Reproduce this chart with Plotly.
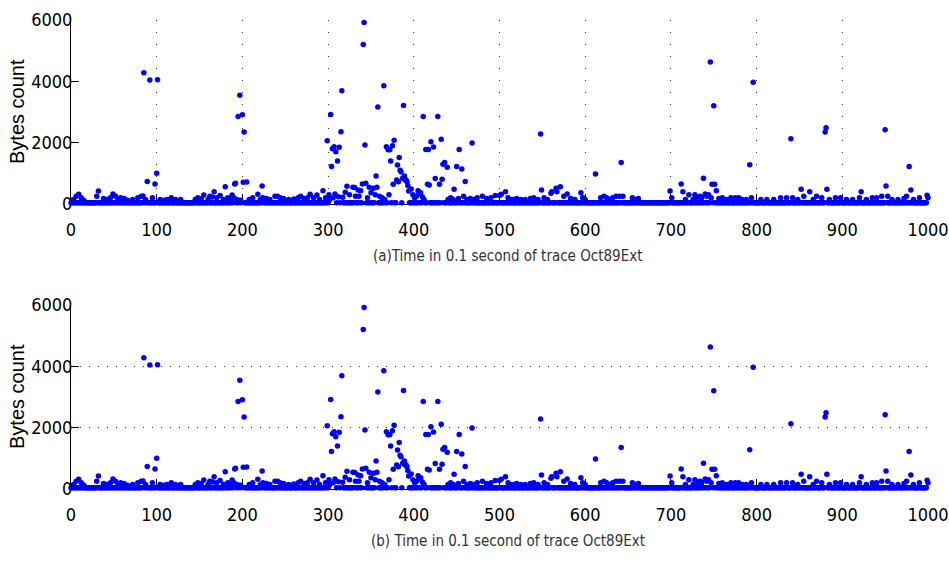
import plotly.graph_objects as go

# Trace Oct89Ext: bytes seen in each 0.1 s slot
time_slots = list(range(0, 1001))
idle_bytes = 40  # level of the quiet slots

burst_time = [
    3, 6, 9, 12, 15, 30, 32, 38, 42, 46, 49, 52, 55, 58, 62, 66, 72, 78, 82, 84,
    85, 87, 89, 92, 95, 98, 100, 101, 104, 108, 112, 117, 122, 128, 145, 148, 152, 155, 160, 162,
    165, 167, 170, 174, 178, 180, 183, 186, 188, 190, 191, 192, 194, 195, 197, 198, 200, 201, 202, 205,
    208, 212, 218, 221, 223, 224, 228, 232, 238, 241, 244, 248, 254, 260, 265, 268, 272, 276, 279, 283,
    287, 290, 294, 297, 299, 301, 302, 303, 304, 305, 306, 307, 308, 309, 311, 312, 313, 315, 316, 317,
    320, 322, 325, 329, 331, 332, 335, 336, 338, 340, 341, 342, 343, 344, 346, 348, 350, 353, 355, 356,
    357, 358, 360, 363, 365, 366, 368, 370, 371, 372, 373, 375, 376, 377, 380, 381, 382, 383, 384, 385,
    387, 388, 389, 390, 391, 392, 393, 394, 397, 399, 401, 403, 405, 406, 408, 410, 411, 412, 414, 416,
    417, 418, 420, 423, 425, 428, 430, 432, 433, 434, 436, 439, 440, 443, 446, 447, 450, 452, 453, 456,
    458, 460, 462, 466, 468, 470, 474, 480, 485, 490, 495, 500, 502, 507, 510, 515, 520, 525, 530, 536,
    540, 545, 548, 549, 552, 556, 560, 561, 566, 567, 571, 575, 579, 583, 588, 595, 597, 600, 612, 618,
    622, 625, 628, 632, 636, 640, 642, 644, 655, 658, 662, 699, 701, 712, 714, 717, 721, 726, 728, 731,
    734, 736, 738, 740, 742, 744, 746, 747, 748, 750, 751, 753, 756, 760, 765, 770, 775, 779, 783, 788,
    792, 794, 796, 805, 812, 820, 828, 835, 840, 842, 848, 852, 855, 862, 866, 870, 876, 880, 881, 882,
    885, 892, 898, 905, 912, 920, 922, 928, 935, 940, 946, 950, 951, 953, 958, 965, 972, 975, 978, 980,
    983, 990, 999, 1000,
]
burst_bytes = [
    150, 250, 320, 200, 120, 250, 420, 180, 150, 200, 330, 250, 150, 200, 180, 120, 150, 200, 250, 260,
    4280, 150, 730, 4040, 200, 650, 1000, 4050, 150, 120, 150, 200, 150, 150, 150, 200, 180, 290, 150, 250,
    230, 400, 200, 280, 150, 565, 200, 150, 290, 200, 650, 680, 150, 2850, 3550, 120, 2910, 710, 2350, 720,
    150, 200, 316, 150, 590, 200, 180, 150, 250, 250, 200, 180, 150, 160, 200, 250, 180, 200, 316, 200,
    293, 150, 435, 200, 2060, 300, 150, 2915, 1220, 1800, 200, 1870, 326, 1700, 1400, 240, 1850, 2360, 3690, 218,
    380, 577, 300, 543, 540, 250, 456, 250, 434, 650, 5200, 5920, 1920, 675, 200, 543, 370, 510, 300, 913,
    543, 3160, 250, 200, 3860, 150, 1870, 1770, 300, 1770, 1400, 1900, 640, 2080, 780, 1270, 727, 1520, 1100, 1050,
    837, 3210, 913, 780, 780, 727, 600, 424, 490, 300, 200, 250, 433, 326, 370, 230, 2850, 150, 1780, 640,
    1780, 620, 2030, 1860, 830, 2850, 640, 2110, 805, 1300, 1350, 1200, 150, 200, 150, 480, 1220, 180, 1780, 1140,
    250, 730, 150, 180, 1990, 150, 200, 250, 180, 200, 280, 280, 316, 400, 200, 150, 180, 150, 150, 180,
    200, 150, 2280, 456, 200, 150, 350, 400, 512, 400, 565, 250, 326, 180, 150, 370, 200, 150, 980, 200,
    250, 200, 150, 200, 250, 250, 1350, 250, 200, 150, 180, 424, 200, 650, 400, 150, 300, 150, 300, 200,
    250, 200, 837, 330, 250, 300, 4630, 200, 640, 3200, 640, 434, 180, 200, 150, 200, 200, 200, 150, 150,
    1280, 200, 3970, 150, 150, 150, 200, 200, 2130, 200, 150, 480, 250, 400, 150, 250, 200, 2350, 2490, 480,
    150, 200, 200, 150, 150, 200, 400, 150, 200, 200, 250, 2420, 587, 250, 150, 150, 180, 250, 1220, 456,
    150, 200, 283, 200,
]

x_ticks = list(range(0, 1001, 100))
y_ticks = [0, 2000, 4000, 6000]
panel_titles = [
    "(a)Time in 0.1 second of trace Oct89Ext",
    "(b) Time in 0.1 second of trace Oct89Ext",
]
y_title = "Bytes count"

bytes_count = [idle_bytes] * len(time_slots)
for t, b in zip(burst_time, burst_bytes):
    bytes_count[t] = b

W, H = 949, 563
NARROW = "DejaVu Sans Condensed, Liberation Sans Narrow, Liberation Sans, sans-serif"
PLAIN = "Liberation Sans, Arial, sans-serif"

x_dom = [71 / W, 928 / W]
top_dom = [1 - 204 / H, 1 - 20 / H]
bot_dom = [1 - 489 / H, 1 - 305 / H]

fig = go.Figure()
for xa, ya in (("x", "y"), ("x2", "y2")):
    fig.add_trace(go.Scatter(
        x=time_slots, y=bytes_count, mode="markers", xaxis=xa, yaxis=ya,
        marker=dict(color="#0000ff", size=5.5, line=dict(width=0)),
        cliponaxis=False, showlegend=False, hoverinfo="x+y",
    ))

axis_common = dict(
    showline=True, linecolor="black", linewidth=1, ticks="inside",
    tickcolor="black", tickwidth=1, zeroline=False, mirror=False,
    automargin=False, ticklabeloverflow="allow",
    tickfont=dict(family=NARROW, size=18, color="black"),
    layer="below traces",
)

x_common = dict(domain=x_dom, range=[0, 1000], tickvals=x_ticks, ticklen=10,
                ticklabelstandoff=9)
y_common = dict(range=[0, 6000], tickvals=y_ticks, ticklen=8, ticklabelstandoff=-6)

fig.update_layout(
    width=W, height=H,
    margin=dict(l=0, r=0, t=0, b=0),
    paper_bgcolor="white", plot_bgcolor="white",
    xaxis=dict(anchor="y", showgrid=True, gridcolor="#333333", gridwidth=1,
               griddash="1px,11px", **x_common, **axis_common),
    yaxis=dict(domain=top_dom, anchor="x", showgrid=False, **y_common, **axis_common),
    xaxis2=dict(anchor="y2", showgrid=False, **x_common, **axis_common),
    yaxis2=dict(domain=bot_dom, anchor="x2", showgrid=True, gridcolor="#333333",
                gridwidth=1, griddash="1px,8px", **y_common, **axis_common),
)

annotations = [
    dict(text=panel_titles[0], x=508 / W, y=1 - 256 / H),
    dict(text=panel_titles[1], x=508 / W, y=1 - 541 / H),
]
fig.update_layout(annotations=[
    dict(xref="paper", yref="paper", xanchor="center", yanchor="middle",
         showarrow=False, font=dict(family=NARROW, size=15, color="#333333"), **a)
    for a in annotations
] + [
    dict(xref="paper", yref="paper", xanchor="center", yanchor="middle",
         showarrow=False, textangle=-90, text=y_title, x=17 / W, y=1 - yc / H,
         font=dict(family=PLAIN, size=20, color="black"))
    for yc in (112, 397)
])

fig.write_html("out.html")
